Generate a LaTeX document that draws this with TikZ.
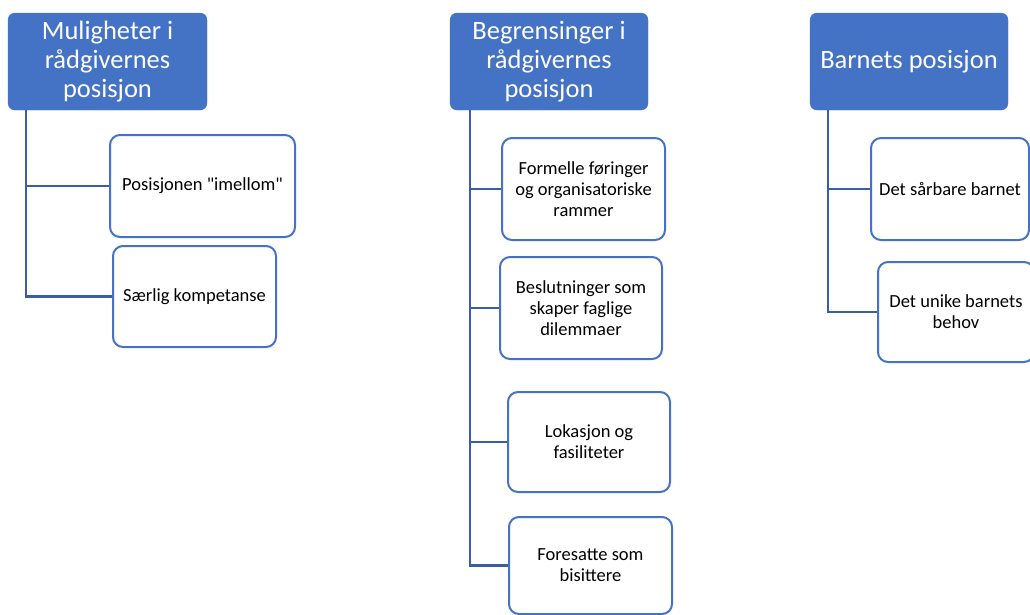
\documentclass[tikz,border=0pt]{standalone}
\usepackage{fontspec}
\setmainfont{Carlito}[Ligatures=TeXOff]
\definecolor{headblue}{HTML}{4472C4}
\definecolor{linkblue}{HTML}{3B5DA6}
\tikzset{
  headbox/.style={fill=headblue, draw=headblue, rounded corners=7pt, text=white, align=center,
    font=\fontsize{26.5}{29}\selectfont, inner sep=0pt},
  itembox/.style={fill=white, draw=headblue, line width=2pt, rounded corners=10pt, align=center,
    font=\fontsize{18.5}{21}\selectfont, inner sep=0pt},
  branch/.style={linkblue, line width=2.4pt},
}
\begin{document}
\begin{tikzpicture}[x=1pt,y=-1pt]
	\useasboundingbox (0,0) rectangle (1030,614);
	\clip (0,0) rectangle (1030,614);
	% overskrifter
	\node[headbox, minimum width=199pt, minimum height=97pt] (h1) at (107.5,61.5) {Muligheter i\\rådgivernes\\posisjon};
	\node[headbox, minimum width=198pt, minimum height=97pt] (h2) at (549,61.5) {Begrensinger i\\rådgivernes\\posisjon};
	\node[headbox, minimum width=198pt, minimum height=97pt] (h3) at (909,61.5) {Barnets posisjon};
	% forbindelser
	\coordinate (t1) at ([xshift=18pt]h1.south west);
	\coordinate (t2) at ([xshift=20pt]h2.south west);
	\coordinate (t3) at ([xshift=18pt]h3.south west);
	% underpunkter
	\node[itembox, minimum width=185pt, minimum height=102pt] (c11) at (202.5,186) {Posisjonen "imellom"};
	\node[itembox, minimum width=163pt, minimum height=101pt] (c12) at (194.5,296.5) {Særlig kompetanse};
	\node[itembox, minimum width=163pt, minimum height=102pt] (c21) at (583.5,189) {Formelle føringer\\og organisatoriske\\rammer};
	\node[itembox, minimum width=162pt, minimum height=102pt] (c22) at (581,308) {Beslutninger som\\skaper faglige\\dilemmaer};
	\node[itembox, minimum width=162pt, minimum height=100pt] (c23) at (589,442) {Lokasjon og\\fasiliteter};
	\node[itembox, minimum width=163pt, minimum height=97pt] (c24) at (590.5,565.5) {Foresatte som\\bisittere};
	\node[itembox, minimum width=158pt, minimum height=102pt] (c31) at (950,189) {Det sårbare barnet};
	\node[itembox, minimum width=156pt, minimum height=100pt] (c32) at (956,312) {Det unike barnets\\behov};
	\draw[branch] (t1) |- (c11.west);
	\draw[branch] (t1) |- (c12.west);
	\draw[branch] (t2) |- (c21.west);
	\draw[branch] (t2) |- (c22.west);
	\draw[branch] (t2) |- (c23.west);
	\draw[branch] (t2) |- (c24.west);
	\draw[branch] (t3) |- (c31.west);
	\draw[branch] (t3) |- (c32.west);
\end{tikzpicture}
\end{document}
